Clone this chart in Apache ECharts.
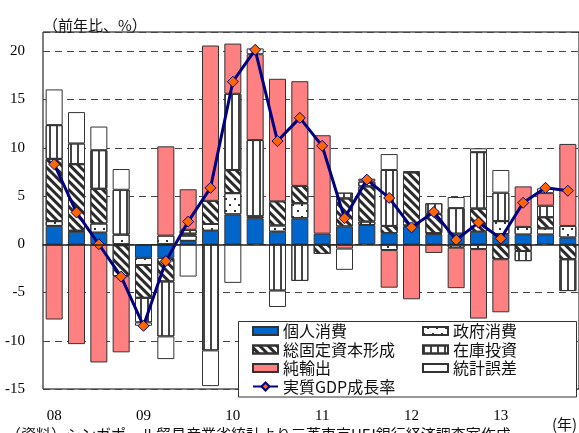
<!DOCTYPE html>
<html>
<head>
<meta charset="utf-8">
<script src="https://cdn.jsdelivr.net/npm/echarts@6/dist/echarts.min.js"></script>
<style>
  html, body { margin: 0; padding: 0; background: #fff; }
  #chart { width: 579px; height: 433px; }
</style>
</head>
<body>
<div id="chart"></div>
<script>
// Quarterly categories, 2008 Q1 - 2013 Q4
const quarters = [
  '08Q1','08Q2','08Q3','08Q4','09Q1','09Q2','09Q3','09Q4',
  '10Q1','10Q2','10Q3','10Q4','11Q1','11Q2','11Q3','11Q4',
  '12Q1','12Q2','12Q3','12Q4','13Q1','13Q2','13Q3','13Q4'
];
const yearTicks = ['08', '09', '10', '11', '12', '13'];

// Contributions to real GDP growth (y/y, %pt)
const personal    = [1.9, 1.3, 1.2, -0.1, -1.4, -1.4, 0.35, 1.4, 3.1, 2.7, 1.3, 2.7, 1.1, 1.85, 2.0, 1.15, 1.85, 1.05, 1.1, 1.3, 1.05, 1.0, 1.0, 0.7];
const government  = [0.5, 0.1, 0.95, 1.0, -0.75, 0.9, 0.55, 0.7, 2.2, 0.2, 0.65, 1.55, 0, 0, 0.35, -0.6, 0.1, 0.1, -0.35, -0.5, 1.35, 0.8, 0.65, 1.2];
const fixedInvest = [6.45, 6.9, 3.6, -3.2, -3.4, -2.45, 0.2, 2.4, 2.4, 0, 2.5, 1.8, -1.0, 2.9, 3.65, 0.75, 5.5, 2.0, 0, 2.4, -1.55, -0.7, 1.15, -1.55];
const inventory   = [3.5, 2.15, 4.0, 4.65, -2.55, -5.7, 0.4, -11.0, 7.9, 7.9, -4.8, -3.8, 0, 0.6, 0.5, 5.8, 0.1, 1.1, 2.65, 5.85, 2.95, -1.05, 1.2, -3.3];
const netExports  = [-7.8, -10.35, -12.25, -7.9, 0, 9.25, 4.2, 16.1, 5.2, 8.9, 12.7, 10.85, 10.2, -0.45, 0.3, -3.9, -5.7, -0.9, -4.2, -7.2, -5.5, 4.2, 1.3, 8.5];
const discrepancy = [3.7, 3.25, 2.45, 2.15, -0.35, -2.35, -3.35, -3.7, -4.0, 0.6, -1.7, 0, 0, -2.2, 0, 1.65, 0, 0, 1.15, 0.4, 2.35, 0, 0.5, 0];
const gdpGrowth   = [8.3, 3.3, 0.0, -3.35, -8.45, -1.75, 2.35, 5.85, 16.85, 20.15, 10.7, 13.1, 10.2, 2.7, 6.7, 4.8, 1.75, 3.35, 0.45, 2.25, 0.6, 4.3, 5.85, 5.55];

const SERIF = '"Liberation Serif", "DejaVu Serif", serif';
const JP = '"Noto Sans CJK JP", "Noto Sans", sans-serif';
const EDGE = '#333';

// fill patterns: diagonal hatch, sparse dots, vertical stripes
const hatch = { symbol: 'rect', symbolSize: 1, color: '#2a2a2a', dashArrayX: [1, 0], dashArrayY: [3, 3], rotation: Math.PI / 4 };
const dots = { symbol: 'rect', symbolSize: 1, color: '#333', dashArrayX: [[1.6, 6.4], [0, 4, 1.6, 2.4]], dashArrayY: [1.6, 3.6] };
const stripes = { symbol: 'rect', symbolSize: 1, color: '#444', dashArrayX: [1.4, 4.4], dashArrayY: [1, 0] };

const skipZero = arr => arr.map(v => (v === 0 ? '-' : v));

function barSeries(name, values, fill, decal) {
  const itemStyle = { color: fill, borderColor: EDGE, borderWidth: 1 };
  if (decal) itemStyle.decal = decal;
  return {
    name, type: 'bar', stack: 'total', barWidth: 17,
    xAxisIndex: 0, yAxisIndex: 0,
    data: skipZero(values), itemStyle,
    emphasis: { disabled: true }
  };
}

const chart = echarts.init(document.getElementById('chart'), null, { renderer: 'canvas' });

const legendText = { fontFamily: JP, fontSize: 16, color: '#111', lineHeight: 18.5 };

chart.setOption({
  animation: false,
  backgroundColor: '#fff',
  title: {
    text: '（前年比、%）', left: 38, top: 13,
    textStyle: { fontFamily: JP, fontSize: 15, fontWeight: 'normal', color: '#111' }
  },
  grid: { left: 43, right: -3, top: 32, bottom: 44, show: true, borderColor: '#000', borderWidth: 1, containLabel: false },
  xAxis: [
    {
      type: 'category', data: quarters, z: 5,
      axisLine: { show: true, onZero: true, lineStyle: { color: '#222', width: 1.5 } },
      axisTick: { show: false }, axisLabel: { show: false }, splitLine: { show: false }
    },
    {
      type: 'category', data: quarters, position: 'bottom',
      axisLine: { show: false, onZero: false }, axisTick: { show: false },
      axisLabel: {
        interval: 0, margin: 20, fontFamily: SERIF, fontSize: 15, color: '#000',
        formatter: (v, i) => (i % 4 === 0 ? yearTicks[i / 4] : '')
      }
    }
  ],
  yAxis: {
    type: 'value', min: -15, max: 22, interval: 5,
    axisLine: { show: false }, axisTick: { show: false },
    axisLabel: { showMaxLabel: false, margin: 18, fontFamily: SERIF, fontSize: 15, color: '#000' },
    splitLine: { show: true, lineStyle: { color: '#444', type: [7, 5], width: 1 } }
  },
  legend: [
    {
      data: [{ name: '個人消費', icon: 'rect' }, { name: '総固定資本形成', icon: 'rect' }, { name: '純輸出', icon: 'rect' }],
      orient: 'vertical', left: 252, top: 321.75, padding: 0, itemGap: 0,
      itemWidth: 25, itemHeight: 8, textStyle: legendText, selectedMode: false, z: 110
    },
    {
      data: [{ name: '政府消費', icon: 'rect' }, { name: '在庫投資', icon: 'rect' }, { name: '統計誤差', icon: 'rect' }],
      orient: 'vertical', left: 422, top: 321.75, padding: 0, itemGap: 0,
      itemWidth: 25, itemHeight: 8, textStyle: legendText, selectedMode: false, z: 110
    },
    {
      data: ['実質GDP成長率'],
      orient: 'vertical', left: 252, top: 377.25, padding: 0,
      itemWidth: 25, itemHeight: 10, textStyle: legendText, selectedMode: false, z: 110
    }
  ],
  graphic: [
    { type: 'rect', z: 100, shape: { x: 238.5, y: 321.5, width: 338, height: 75.5 },
      style: { fill: '#fff', stroke: '#333', lineWidth: 1 } },
    { type: 'text', z: 100, x: 552, y: 424,
      style: { text: '(年)', fontFamily: JP, fontSize: 15, fill: '#111', textVerticalAlign: 'middle' } },
    { type: 'text', z: 100, x: 6, y: 427,
      style: { text: '（資料）シンガポール貿易産業省統計より三菱東京UFJ銀行経済調査室作成', fontFamily: JP, fontSize: 15, fill: '#111', textVerticalAlign: 'top' } }
  ],
  series: [
    barSeries('個人消費', personal, '#0066CC'),
    barSeries('政府消費', government, '#fff', dots),
    barSeries('総固定資本形成', fixedInvest, '#fff', hatch),
    barSeries('在庫投資', inventory, '#fff', stripes),
    barSeries('純輸出', netExports, '#FF8080'),
    barSeries('統計誤差', discrepancy, '#fff'),
    {
      name: '実質GDP成長率', type: 'line', z: 4, data: gdpGrowth,
      xAxisIndex: 0, yAxisIndex: 0,
      symbol: 'diamond', symbolSize: 11, showAllSymbol: true,
      lineStyle: { color: '#000080', width: 3 },
      itemStyle: { color: '#FF6600', borderColor: '#000080', borderWidth: 1 },
      emphasis: { disabled: true }
    }
  ]
});
</script>
</body>
</html>
